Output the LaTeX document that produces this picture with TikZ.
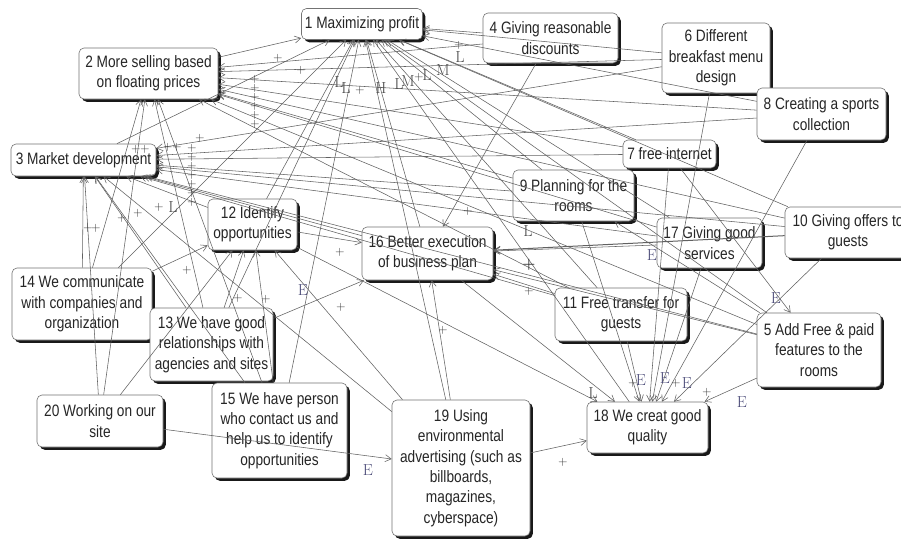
\documentclass[tikz,border=0pt]{standalone}
\usepackage{fontspec}
\newfontfamily\boxfont[FakeStretch=0.83]{Liberation Sans}
\usetikzlibrary{arrows.meta,shadows}
\begin{document}
\begin{tikzpicture}[x=1pt,y=-1pt,
  box/.style={draw=black!55, line width=0.6pt, rounded corners=5pt, fill=white, align=center, inner sep=2pt,
    font=\boxfont\fontsize{16.5}{20.3}\selectfont, text=black!85,
    drop shadow={shadow xshift=2.8pt, shadow yshift=-2.8pt, fill=black, opacity=0.9}},
  arr/.style={draw=black!62, line width=0.55pt, -{Straight Barb[length=6pt,width=7pt]}},
  pl/.style={font=\fontsize{12.5}{12.5}\selectfont, text=black!80, inner sep=0pt},
  lt/.style={font=\fontsize{16}{16}\selectfont, text=black!70, inner sep=0pt},
  et/.style={font=\fontsize{16}{16}\selectfont, text=blue!25!black!70, inner sep=0pt}
]
\useasboundingbox (0,0) rectangle (901,538);
\fill[white] (0,0) rectangle (901,538);

% ---------- nodes ----------
\node[box, minimum width=121pt, minimum height=31pt] (n1) at (362,24) {1 Maximizing profit};
\node[box, minimum width=139pt, minimum height=51pt] (n2) at (148.5,73.5) {2 More selling based\\on floating prices};
\node[box, minimum width=145pt, minimum height=32pt] (n3) at (83.5,160) {3 Market development};
\node[box, minimum width=135pt, minimum height=50pt] (n4) at (550.5,38) {4 Giving reasonable\\discounts};
\node[box, minimum width=108pt, minimum height=70pt] (n6) at (716,58) {6 Different\\breakfast menu\\design};
\node[box, minimum width=129pt, minimum height=52pt] (n8) at (821.5,114) {8 Creating a sports\\collection};
\node[box, minimum width=93pt, minimum height=28pt] (n7) at (669.5,154) {7 free internet};
\node[box, minimum width=121pt, minimum height=51pt] (n9) at (573.5,195.5) {9 Planning for the\\rooms};
\node[box, minimum width=105pt, minimum height=50pt] (n17) at (709.5,243) {17 Giving good\\services};
\node[box, minimum width=126pt, minimum height=51pt] (n10) at (848,232.5) {10 Giving offers to\\guests};
\node[box, minimum width=89pt, minimum height=51pt] (n12) at (252.5,224.5) {12 Identify\\opportunities};
\node[box, minimum width=131pt, minimum height=53pt] (n16) at (427.5,253.5) {16 Better execution\\of business plan};
\node[box, minimum width=132pt, minimum height=53pt] (n11) at (621,314.5) {11 Free transfer for\\guests};
\node[box, minimum width=124pt, minimum height=74pt] (n5) at (819,350) {5 Add Free \& paid\\features to the\\rooms};
\node[box, minimum width=121pt, minimum height=51pt] (n18) at (647.5,427.5) {18 We creat good\\quality};
\node[box, minimum width=138pt, minimum height=136pt] (n19) at (461,468) {19 Using\\environmental\\advertising (such as\\billboards,\\magazines,\\cyberspace)};
\node[box, minimum width=140pt, minimum height=72pt] (n14) at (82,304) {14 We communicate\\with companies and\\organization};
\node[box, minimum width=123pt, minimum height=73pt] (n13) at (211.5,344.5) {13 We have good\\relationships with\\agencies and sites};
\node[box, minimum width=135pt, minimum height=95pt] (n15) at (279.5,430.5) {15 We have person\\who contact us and\\help us to identify\\opportunities};
\node[box, minimum width=126pt, minimum height=52pt] (n20) at (100,421) {20 Working on our\\site};

% ---------- connectors ----------
% into 1
\foreach \s in {n2,n3,n4,n6,n8,n7,n9,n10,n17,n5,n11,n12,n13,n14,n15,n16,n19,n18}
  \draw[arr] (\s) -- (n1);
% into 2
\foreach \s in {n4,n6,n8,n7,n9,n10,n17,n5,n11,n14,n20,n13,n15}
  \draw[arr] (\s) -- (n2);
% into 3
\foreach \s in {n6,n8,n7,n9,n10,n17,n5,n11,n16,n12,n14,n20,n13,n15,n19}
  \draw[arr] (\s) -- (n3);
% into 12
\foreach \s in {n14,n13,n20,n15,n19}
  \draw[arr] (\s) -- (n12);
% into 16
\foreach \s in {n12,n13,n19,n5,n11,n4,n17}
  \draw[arr] (\s) -- (n16);
\draw[arr, line width=1pt] (n10) -- (n16);
% into 18
\foreach \s in {n16,n12,n11,n9,n7,n6,n17,n8,n10,n5,n19}
  \draw[arr] (\s) -- (n18);
% others
\draw[arr] (n7) -- (n5);
\draw[arr] (n5) -- (n9);
\draw[arr] (n20) -- (n19);

% ---------- labels ----------
\node[pl] (p1) at (278,58) {+};
\node[pl] (p2) at (301,70) {+};
\foreach \y [count=\i] in {79,88,97,106,115,124}
  \node[pl] (ps\i) at (255,\y) {+};
\node[lt] (l1) at (339,82) {L};
\node[lt] (l2) at (346,88) {L};
\node[pl] (p3) at (360,90) {+};
\node[lt] (h1) at (381,88) {H};
\node[lt] (l3) at (399,84) {L};
\node[lt] (m1) at (408,81) {M};
\node[pl] (p4) at (419,77) {+};
\node[lt] (l4) at (427,75) {L};
\node[lt] (m2) at (443,70) {M};
\node[pl] (p5) at (459,45) {+};
\node[lt] (l5) at (460,57) {L};
% near 3
\node[pl] (p6) at (136,149) {+};
\node[pl] (p7) at (145,149) {+};
\node[pl] (p8) at (168,147) {+};
\node[pl] (p9) at (177,147) {+};
\node[pl] (p10) at (200,138) {+};
\foreach \y [count=\i] in {148,157,166,175,184,193,202}
  \node[pl] (pt\i) at (192,\y) {+};
\node[pl] (p11) at (159,207) {+};
\node[lt] (l6) at (173,207) {L};
\node[pl] (p12) at (122,218) {+};
\node[pl] (p13) at (138,213) {+};
\node[pl] (p14) at (88,228) {+};
\node[pl] (p15) at (96,228) {+};
\node[pl] (p16) at (187,270) {+};
\node[pl] (p17) at (238,298) {+};
\node[pl] (p18) at (266,299) {+};
\node[et] (e1) at (303,290) {E};
\node[pl] (p19) at (341,307) {+};
\node[pl] (p20) at (340,252) {+};
\node[pl] (p21) at (468,211) {+};
\node[lt] (l7) at (528,231) {L};
\node[pl, font=\fontsize{15}{15}\selectfont\bfseries] (p22) at (529,265) {+};
\node[pl] (p23) at (529,291) {+};
\node[et] (e2) at (652,255) {E};
\node[pl] (p24) at (443,330) {+};
\node[et] (e3) at (776,298) {E};
\node[lt] (l8) at (593,393) {L};
\node[pl] (p25) at (633,383) {+};
\node[et] (e4) at (641,380) {E};
\node[et] (e5) at (665,378) {E};
\node[pl] (p26) at (676,383) {+};
\node[et] (e6) at (687,383) {E};
\node[pl] (p27) at (707,392) {+};
\node[et] (e7) at (742,402) {E};
\node[pl] (p28) at (563,462) {+};
\node[et] (e8) at (368,470) {E};
\end{tikzpicture}
\end{document}
